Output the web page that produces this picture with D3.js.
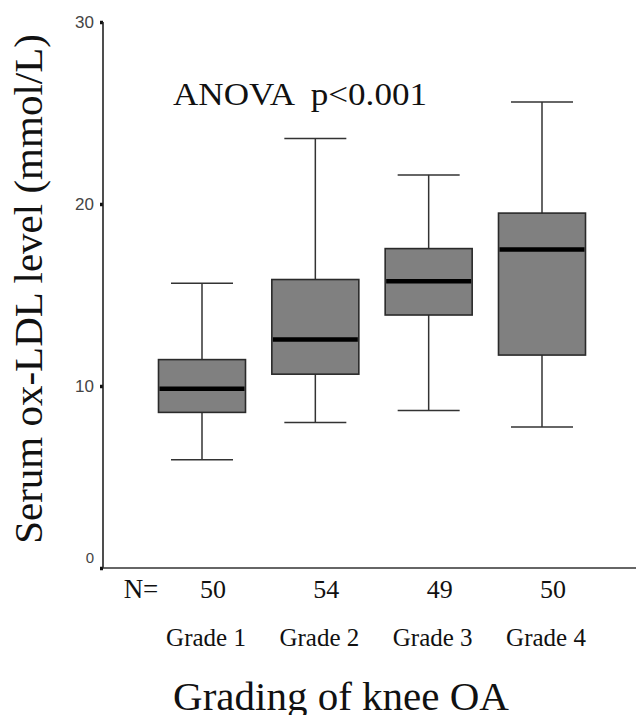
<!DOCTYPE html>
<html>
<head>
<meta charset="utf-8">
<script src="https://cdn.jsdelivr.net/npm/d3@7"></script>
<style>
  body { margin: 0; background: #fff; }
  svg { display: block; }
  .serif { font-family: "Liberation Serif", "Times New Roman", serif; fill: #111; }
  .tick text { font-family: "Liberation Sans", Arial, sans-serif; fill: #444; }
</style>
</head>
<body>
<div id="plot"></div>
<script>
// data
const grades = ["Grade 1", "Grade 2", "Grade 3", "Grade 4"];
const nCounts = [50, 54, 49, 50];
const whiskLow = [5.95, 8.0, 8.65, 7.75];
const q1 = [8.55, 10.65, 13.9, 11.7];
const medians = [9.85, 12.55, 15.75, 17.5];
const q3 = [11.45, 15.85, 17.55, 19.5];
const whiskHigh = [15.65, 23.6, 21.6, 25.6];
const yTicks = [0, 10, 20, 30];

const width = 636, height = 715;
const margin = { left: 103, top: 22, bottom: 147 };

const svg = d3.select("#plot").append("svg")
    .attr("width", width)
    .attr("height", height);

// scales
const x = d3.scalePoint().domain(grades).range([202, 542]);
const y = d3.scaleLinear().domain([0, 30]).range([height - margin.bottom, margin.top]);

const boxW = 87, capW = 62;

// y axis with little square ticks
const yAxis = svg.append("g")
    .attr("transform", `translate(${margin.left},0)`)
    .call(d3.axisLeft(y).tickValues(yTicks).tickSize(3).tickPadding(6));
yAxis.select(".domain").remove();
yAxis.selectAll(".tick line").attr("stroke", "#111").attr("stroke-width", 3.5);
yAxis.selectAll(".tick text")
    .attr("font-size", d => d == 0 ? 15 : 17)
    .attr("dy", d => d == 0 ? "-0.35em" : "0.35em");

// axis lines
svg.append("line")
    .attr("x1", margin.left).attr("x2", margin.left)
    .attr("y1", y(0)).attr("y2", y(30))
    .attr("stroke", "#222").attr("stroke-width", 1.6);
svg.append("line")
    .attr("x1", margin.left).attr("x2", width)
    .attr("y1", y(0)).attr("y2", y(0))
    .attr("stroke", "#333").attr("stroke-width", 1.6);

// boxes
const boxes = svg.append("g").selectAll("g")
    .data(grades)
    .join("g");

boxes.append("line")
    .attr("x1", d => x(d)).attr("x2", d => x(d))
    .attr("y1", (d, i) => y(whiskLow[i])).attr("y2", (d, i) => y(whiskHigh[i]))
    .attr("stroke", "#333").attr("stroke-width", 1.5);

boxes.append("line")
    .attr("x1", d => x(d) - capW / 2).attr("x2", d => x(d) + capW / 2)
    .attr("y1", (d, i) => y(whiskHigh[i])).attr("y2", (d, i) => y(whiskHigh[i]))
    .attr("stroke", "#333").attr("stroke-width", 1.5);

boxes.append("line")
    .attr("x1", d => x(d) - capW / 2).attr("x2", d => x(d) + capW / 2)
    .attr("y1", (d, i) => y(whiskLow[i])).attr("y2", (d, i) => y(whiskLow[i]))
    .attr("stroke", "#333").attr("stroke-width", 1.5);

boxes.append("rect")
    .attr("x", d => x(d) - boxW / 2)
    .attr("width", boxW)
    .attr("y", (d, i) => y(q3[i]))
    .attr("height", (d, i) => y(q1[i]) - y(q3[i]))
    .attr("fill", "#808080")
    .attr("stroke", "#2a2a2a").attr("stroke-width", 1.6);

boxes.append("line")
    .attr("x1", d => x(d) - boxW / 2 + 1).attr("x2", d => x(d) + boxW / 2 - 1)
    .attr("y1", (d, i) => y(medians[i])).attr("y2", (d, i) => y(medians[i]))
    .attr("stroke", "#000").attr("stroke-width", 4.5);

// N row
svg.append("text").attr("class", "serif")
    .attr("x", 141).attr("y", 598)
    .attr("text-anchor", "middle")
    .style("font-size", "27px")
    .text("N=");
svg.append("g").selectAll("text")
    .data(nCounts)
    .join("text")
    .attr("class", "serif")
    .attr("x", (d, i) => x(grades[i]) + 11)
    .attr("y", 598)
    .attr("text-anchor", "middle")
    .style("font-size", "26px")
    .text(d => d);

// category labels
svg.append("g").selectAll("text")
    .data(grades)
    .join("text")
    .attr("class", "serif")
    .attr("x", d => x(d) + 4)
    .attr("y", 646)
    .attr("text-anchor", "middle")
    .style("font-size", "25px")
    .text(d => d);

// titles
svg.append("text").attr("class", "serif")
    .attr("x", 341).attr("y", 710)
    .attr("text-anchor", "middle")
    .style("font-size", "41px")
    .text("Grading of knee OA");

svg.append("text").attr("class", "serif")
    .attr("transform", "translate(42,289) rotate(-90)")
    .attr("text-anchor", "middle")
    .style("font-size", "41px")
    .text("Serum ox-LDL level (mmol/L)");

svg.append("text").attr("class", "serif")
    .attr("x", 173).attr("y", 105)
    .style("font-size", "31px")
    .style("white-space", "pre")
    .attr("textLength", 254)
    .attr("lengthAdjust", "spacingAndGlyphs")
    .text("ANOVA  p<0.001");
</script>
</body>
</html>
